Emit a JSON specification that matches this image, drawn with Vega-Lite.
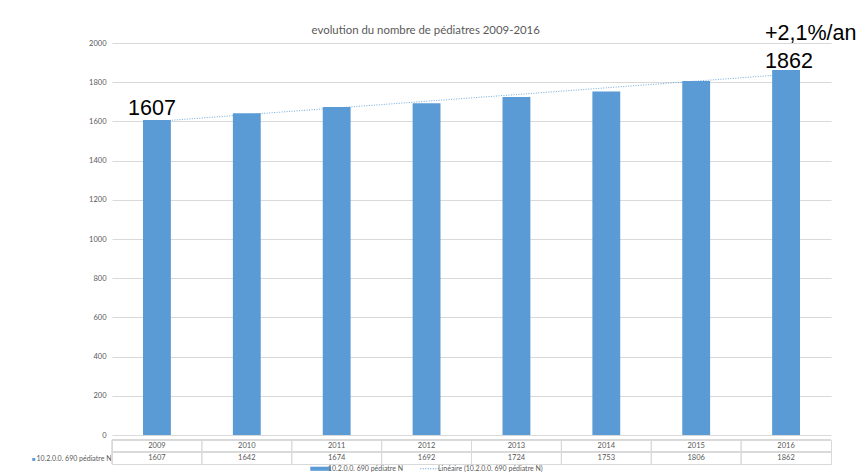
{
  "$schema": "https://vega.github.io/schema/vega-lite/v6.json",
  "autosize": {"type": "pad"},
  "padding": {"left": 30, "top": 23, "right": 0, "bottom": 0},
  "background": "white",
  "title": {
    "text": "evolution du nombre de pédiatres 2009-2016",
    "font": "Lato",
    "fontSize": 11.4,
    "fontWeight": "normal",
    "color": "#595959",
    "anchor": "middle",
    "offset": -13,
    "dx": -18
  },
  "config": {
    "font": "Lato",
    "view": {"stroke": null},
    "axis": {"labelFont": "Lato", "labelColor": "#595959"},
    "legend": {"labelFont": "Lato", "labelColor": "#595959"}
  },
  "datasets": {
    "pediatres": [
      {"annee": 2009, "pediatres": 1607},
      {"annee": 2010, "pediatres": 1642},
      {"annee": 2011, "pediatres": 1674},
      {"annee": 2012, "pediatres": 1692},
      {"annee": 2013, "pediatres": 1724},
      {"annee": 2014, "pediatres": 1753},
      {"annee": 2015, "pediatres": 1806},
      {"annee": 2016, "pediatres": 1862}
    ]
  },
  "spacing": 0,
  "vconcat": [
    {
      "width": 719,
      "height": 392,
      "data": {"name": "pediatres"},
      "encoding": {
        "x": {"field": "annee", "type": "ordinal", "axis": null,
              "scale": {"paddingInner": 0.69, "paddingOuter": 0.345}},
        "y": {
          "field": "pediatres",
          "type": "quantitative",
          "scale": {"domain": [0, 2000], "nice": false},
          "axis": {
            "title": null,
            "domain": false,
            "ticks": false,
            "format": "d",
            "labelOverlap": false,
            "tickCount": 11,
            "values": [0, 200, 400, 600, 800, 1000, 1200, 1400, 1600, 1800, 2000],
            "labelFontSize": 7.5,
            "labelPadding": 6,
            "gridColor": "#d9d9d9",
            "gridWidth": 1
          }
        }
      },
      "layer": [
        {
          "transform": [{"regression": "pediatres", "on": "annee", "method": "linear"}],
          "mark": {"type": "line", "strokeWidth": 1, "strokeDash": [1, 1.5], "opacity": 0.85},
          "encoding": {
            "color": {"datum": "Linéaire (10.2.0.0. 690 pédiatre N)"}
          }
        },
        {
          "mark": {"type": "bar"},
          "encoding": {
            "color": {
              "datum": "10.2.0.0. 690 pédiatre N",
              "scale": {
                "domain": ["10.2.0.0. 690 pédiatre N", "Linéaire (10.2.0.0. 690 pédiatre N)"],
                "range": ["#5b9bd5", "#5b9bd5"]
              },
              "legend": {
                "title": null,
                "orient": "none",
                "legendX": 205,
                "legendY": 422,
                "direction": "horizontal",
                "labelFontSize": 7,
                "labelOffset": 4,
                "symbolSize": 420,
                "columnPadding": 14,
                "encode": {
                  "symbols": {
                    "update": {
                      "shape": {"signal": "datum.value === '10.2.0.0. 690 pédiatre N' ? 'M-1,-0.2H1V0.2H-1Z' : 'M-1,0H1'"},
                      "fill": {"signal": "datum.value === '10.2.0.0. 690 pédiatre N' ? '#5b9bd5' : 'transparent'"},
                      "stroke": {"value": "#5b9bd5"},
                      "strokeWidth": {"signal": "datum.value === '10.2.0.0. 690 pédiatre N' ? 0 : 1"},
                      "strokeDash": {"signal": "datum.value === '10.2.0.0. 690 pédiatre N' ? [] : [1, 1.5]"}
                    }
                  }
                }
              }
            }
          }
        },
        {
          "transform": [{"filter": "datum.annee === 2009"}],
          "mark": {"type": "text", "font": "Liberation Sans", "fontSize": 21.5, "color": "black",
                   "align": "center", "baseline": "alphabetic", "dx": -5, "dy": -5},
          "encoding": {
            "text": {"field": "pediatres", "type": "nominal"}
          }
        },
        {
          "transform": [{"filter": "datum.annee === 2016"}],
          "mark": {"type": "text", "font": "Liberation Sans", "fontSize": 21.5, "color": "black",
                   "align": "left", "baseline": "alphabetic", "dx": -21, "dy": -2},
          "encoding": {
            "text": {"field": "pediatres", "type": "nominal"}
          }
        },
        {
          "transform": [{"filter": "datum.annee === 2016"}],
          "mark": {"type": "text", "font": "Liberation Sans", "fontSize": 21.5, "color": "black",
                   "align": "left", "baseline": "alphabetic", "dx": -21, "dy": -30},
          "encoding": {
            "text": {"value": "+2,1%/an"}
          }
        }
      ]
    },
    {
      "width": 719,
      "height": 24,
      "view": {"stroke": "#d9d9d9"},
      "data": {"name": "pediatres"},
      "transform": [{"fold": ["annee", "pediatres"], "as": ["ligne", "valeur"]}],
      "layer": [
        {
          "mark": {"type": "rule", "color": "#d9d9d9", "strokeWidth": 1},
          "encoding": {
            "x": {"field": "annee", "type": "ordinal", "bandPosition": 0, "axis": null,
                  "scale": {"paddingInner": 0, "paddingOuter": 0}}
          }
        },
        {
          "mark": {"type": "rule", "color": "#d9d9d9", "strokeWidth": 1},
          "encoding": {
            "y": {"field": "ligne", "type": "nominal", "bandPosition": 0, "axis": null,
                  "sort": ["annee", "pediatres"]}
          }
        },
        {
          "mark": {"type": "text", "fontSize": 7.5, "color": "#595959", "baseline": "middle"},
          "encoding": {
            "x": {"field": "annee", "type": "ordinal"},
            "y": {
              "field": "ligne",
              "type": "nominal",
              "sort": ["annee", "pediatres"],
              "axis": {
                "title": null,
                "orient": "left",
                "domain": false,
                "ticks": false,
                "labelFontSize": 7,
                "labelPadding": 1,
                "labelExpr": "datum.value === 'pediatres' ? '10.2.0.0. 690 pédiatre N' : ''"
              }
            },
            "text": {"field": "valeur", "type": "nominal"}
          }
        },
        {
          "mark": {"type": "text", "opacity": 0},
          "encoding": {
            "x": {"field": "annee", "type": "ordinal"},
            "y": {
              "field": "ligne",
              "type": "nominal",
              "sort": ["annee", "pediatres"],
              "axis": {
                "title": null,
                "orient": "left",
                "domain": false,
                "ticks": false,
                "labelFontSize": 6,
                "labelPadding": 77,
                "labelColor": "#5b9bd5",
                "labelExpr": "datum.value === 'pediatres' ? '■' : ''"
              }
            },
            "text": {"value": ""}
          }
        }
      ],
      "resolve": {"scale": {"y": "independent"}, "axis": {"y": "independent"}}
    }
  ]
}
